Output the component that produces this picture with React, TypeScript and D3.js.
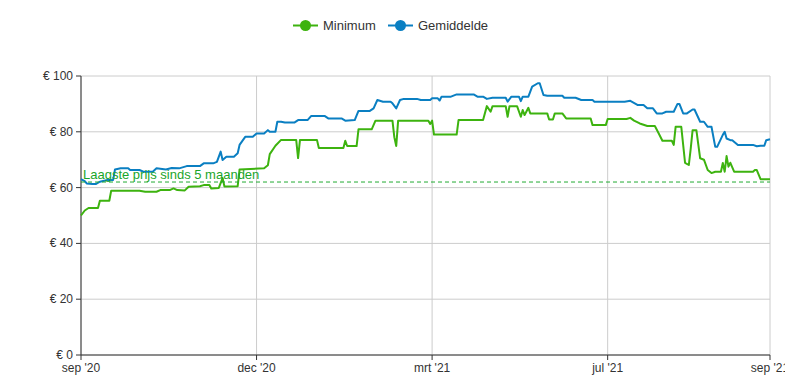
import React from "react";
import * as d3 from "d3";

const W = 785;
const H = 376;

// x = day offset since start of the period (sep '20 .. sep '21)
const tickDays = [0, 93, 186, 279, 365];
const tickLabels = ["sep '20", "dec '20", "mrt '21", "jul '21", "sep '21"];
const yTicks = [0, 20, 40, 60, 80, 100];

const minDays = [0, 2, 4, 9, 10, 15, 16, 31, 34, 40, 42, 47, 49, 51, 55, 57, 63, 65, 68, 69, 73, 75, 76, 83, 84, 97, 99, 100, 103, 106, 114, 115, 116, 125, 126, 139, 140, 141, 146, 147, 154, 156, 165, 166, 167, 168, 184, 185, 186, 187, 199, 200, 213, 215, 217, 218, 225, 226, 227, 231, 233, 234, 235, 237, 238, 247, 248, 250, 251, 255, 257, 270, 271, 278, 279, 289, 291, 293, 296, 300, 304, 306, 308, 313, 314, 315, 318, 320, 322, 323, 324, 326, 328, 330, 332, 334, 336, 339, 340, 341, 342, 343, 344, 346, 356, 357, 358, 360, 365];
const minValues = [50.0, 51.8, 52.7, 52.7, 55.3, 55.3, 58.9, 58.9, 58.5, 58.5, 59.1, 59.1, 59.7, 59.1, 59.0, 60.3, 60.5, 60.9, 60.9, 59.7, 59.9, 63.4, 60.4, 60.5, 66.5, 66.9, 68, 72, 75, 77.1, 77.1, 70.6, 77.1, 77.1, 74.2, 74.2, 76.8, 74.9, 74.9, 80.9, 80.9, 84, 84, 78, 74.9, 84, 84, 82.8, 84, 79, 79, 84.2, 84.2, 89.2, 87.2, 89.2, 89.2, 85.4, 89.2, 89.2, 85.4, 87.8, 86, 88.6, 86.6, 86.6, 84.4, 84.4, 86.6, 86.6, 84.8, 84.8, 82.4, 82.4, 84.6, 84.6, 85, 84, 83, 82.1, 82.1, 79.5, 76.8, 76.8, 75.3, 81.8, 81.8, 68.9, 68.1, 74, 80.6, 80.6, 70.5, 70, 66.3, 65.2, 65.7, 65.7, 68.8, 65.7, 71.3, 67.5, 68.9, 65.7, 65.7, 66.3, 66.3, 63, 63];

const avgDays = [0, 2, 3, 6, 8, 10, 14, 17, 18, 21, 25, 26, 31, 33, 38, 40, 45, 48, 52, 56, 63, 65, 70, 72, 74, 75, 77, 81, 83, 84, 87, 91, 93, 97, 99, 100, 103, 104, 106, 108, 113, 115, 120, 122, 129, 131, 138, 140, 145, 147, 153, 155, 157, 160, 164, 165, 167, 169, 171, 178, 180, 185, 186, 189, 190, 191, 196, 199, 208, 210, 213, 215, 218, 225, 226, 228, 232, 233, 234, 237, 239, 242, 243, 245, 247, 255, 256, 262, 265, 271, 272, 288, 291, 295, 298, 300, 303, 305, 308, 310, 314, 316, 317, 319, 321, 324, 325, 328, 330, 332, 334, 336, 337, 340, 341, 342, 344, 345, 348, 356, 358, 360, 362, 363, 365];
const avgValues = [63, 62.3, 61.5, 61.3, 61.3, 62.1, 62.7, 62.7, 66.5, 66.9, 66.9, 66.3, 66.3, 65.7, 65.7, 66.9, 66.5, 67, 66.9, 67.7, 67.7, 68.7, 68.7, 69.2, 72.9, 69.9, 71.1, 71.1, 72.3, 75.3, 78.2, 78.2, 79.4, 79.4, 80.6, 80, 80, 83.6, 83.6, 83.3, 83.3, 84.2, 84.2, 85.7, 85.7, 84.8, 84.8, 84, 84.2, 87.5, 87.5, 88.4, 91.4, 90.8, 90.8, 90.2, 88.4, 91.4, 91.8, 91.8, 91.4, 91.4, 92, 92, 91.2, 92.6, 92.6, 93.4, 93.4, 92.6, 92.6, 91.8, 92.2, 92.2, 90.8, 92.6, 92.6, 91, 92.6, 92.6, 96.2, 97.4, 97.4, 93.2, 92.9, 92.9, 92.2, 92.2, 91.4, 91.4, 90.8, 90.8, 91.1, 89.6, 89.6, 88.4, 88.4, 86.6, 86.6, 87.2, 87.2, 90, 90, 86.6, 86.6, 88, 88, 83.6, 83.6, 81.8, 81.8, 74.6, 74.6, 78.9, 80, 77.6, 77, 77, 75.3, 75.3, 74.8, 75, 75, 77, 77.3];

const lowestPrice = 62;
const lowestLabel = "Laagste prijs sinds 5 maanden";
const seriesNames = ["Minimum", "Gemiddelde"];
const seriesColors = ["#3db30f", "#0a7fc2"];

const margin = { left: 81, right: 15, top: 76, bottom: 21 };
const FONT = "'Liberation Sans', Arial, sans-serif";

export default function App() {
  const x = d3.scaleLinear().domain([0, 365]).range([margin.left, W - margin.right]);
  const y = d3.scaleLinear().domain([0, 100]).range([H - margin.bottom, margin.top]);
  const line = d3
    .line<[number, number]>()
    .x((d) => x(d[0]))
    .y((d) => y(d[1]));
  const minPts = minDays.map((d, i) => [d, minValues[i]] as [number, number]);
  const avgPts = avgDays.map((d, i) => [d, avgValues[i]] as [number, number]);
  const x0 = x(0);
  const x1 = x(365);
  const yb = y(0);

  const legendItems = [
    { name: seriesNames[0], color: seriesColors[0], lx: 293 },
    { name: seriesNames[1], color: seriesColors[1], lx: 388 },
  ];

  return (
    <svg
      width={W}
      height={H}
      style={{ position: "absolute", left: 0, top: 0, fontFamily: FONT }}
    >
      <rect width={W} height={H} fill="#fff" />
      {/* horizontal grid */}
      {yTicks.map((t) => (
        <line key={"h" + t} x1={x0} x2={x1} y1={y(t)} y2={y(t)} stroke="#cccccc" strokeWidth={1} />
      ))}
      {/* vertical grid */}
      {tickDays.map((t) => (
        <line key={"v" + t} x1={x(t)} x2={x(t)} y1={y(100)} y2={yb} stroke="#cccccc" strokeWidth={1} />
      ))}
      {/* axes */}
      <line x1={x0} x2={x0} y1={y(100)} y2={yb} stroke="#333" strokeWidth={1} />
      <line x1={x0} x2={x1} y1={yb} y2={yb} stroke="#333" strokeWidth={1} />
      {yTicks.map((t) => (
        <g key={"yt" + t}>
          <line x1={x0 - 5} x2={x0} y1={y(t)} y2={y(t)} stroke="#333" />
          <text x={x0 - 8} y={y(t) + 4} textAnchor="end" fontSize={12} fill="#333">
            {"€ " + t}
          </text>
        </g>
      ))}
      {tickDays.map((t, i) => (
        <g key={"xt" + t}>
          <line x1={x(t)} x2={x(t)} y1={yb} y2={yb + 5} stroke="#333" />
          <text x={x(t)} y={yb + 17} textAnchor="middle" fontSize={12} fill="#333">
            {tickLabels[i]}
          </text>
        </g>
      ))}
      {/* series */}
      <path d={line(minPts) || ""} fill="none" stroke={seriesColors[0]} strokeWidth={2} strokeLinejoin="round" />
      <path d={line(avgPts) || ""} fill="none" stroke={seriesColors[1]} strokeWidth={2} strokeLinejoin="round" />
      {/* mark line */}
      <line
        x1={x0}
        x2={x1}
        y1={y(lowestPrice)}
        y2={y(lowestPrice)}
        stroke="#22aa33"
        strokeWidth={1}
        strokeDasharray="4,3"
      />
      <text x={x0 + 2} y={y(lowestPrice) - 3} fontSize={13} fill="#1aa52a">
        {lowestLabel}
      </text>
      {/* legend */}
      {legendItems.map((it) => (
        <g key={it.name}>
          <line x1={it.lx} x2={it.lx + 25} y1={25.5} y2={25.5} stroke={it.color} strokeWidth={2} />
          <circle cx={it.lx + 12.5} cy={25.5} r={5.5} fill={it.color} />
          <text x={it.lx + 30} y={30} fontSize={13} fill="#333">
            {it.name}
          </text>
        </g>
      ))}
    </svg>
  );
}
